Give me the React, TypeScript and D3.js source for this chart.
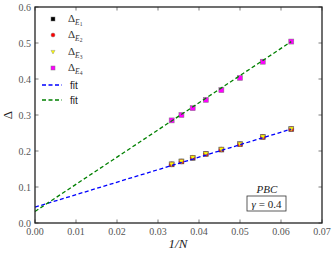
import React from "react";
import * as d3 from "d3";

// 1/N for N = 16..30
const invN = [1 / 30, 1 / 28, 1 / 26, 1 / 24, 1 / 22, 1 / 20, 1 / 18, 1 / 16];
const deltaLow = [0.163, 0.171, 0.181, 0.192, 0.204, 0.219, 0.239, 0.261];
const deltaHigh = [0.285, 0.3, 0.319, 0.342, 0.369, 0.403, 0.448, 0.504];
const fitLow = { a: 0.044, b: 3.47 };
const fitHigh = { a: 0.032, b: 7.55 };
const xTicks = [0, 0.01, 0.02, 0.03, 0.04, 0.05, 0.06, 0.07];
const yTicks = [0, 0.1, 0.2, 0.3, 0.4, 0.5, 0.6];

const W = 333;
const H = 255;
const m = { left: 35, right: 11, top: 7, bottom: 32 };
const serif = "'Liberation Serif', 'DejaVu Serif', serif";

export default function App() {
  const x = d3.scaleLinear().domain([0, 0.07]).range([m.left, W - m.right]);
  const y = d3.scaleLinear().domain([0, 0.6]).range([H - m.bottom, m.top]);
  const fitLine = (f: { a: number; b: number }) =>
    d3.line<number>().x((d) => x(d)).y((d) => y(f.a + f.b * d))([0, 1 / 16]) || "";

  const sq = (cx: number, cy: number, fill: string, key: string, s = 2.5) => (
    <rect key={key} x={cx - s} y={cy - s} width={2 * s} height={2 * s} fill={fill} stroke="#777" strokeOpacity={0.8} strokeWidth={0.6} />
  );
  const circ = (cx: number, cy: number, key: string, s = 2.5) => (
    <circle key={key} cx={cx} cy={cy} r={s} fill="red" stroke="#777" strokeWidth={0.4} />
  );
  const tri = (cx: number, cy: number, key: string, s = 2.5) => (
    <path key={key} d={`M${cx - s},${cy - s * 0.8}L${cx + s},${cy - s * 0.8}L${cx},${cy + s}Z`} fill="yellow" stroke="#777" strokeWidth={0.4} />
  );

  const legendMarkers = [
    (cx: number, cy: number) => sq(cx, cy, "black", "l1", 2),
    (cx: number, cy: number) => circ(cx, cy, "l2", 2),
    (cx: number, cy: number) => tri(cx, cy, "l3", 2),
    (cx: number, cy: number) => sq(cx, cy, "magenta", "l4", 2),
  ];
  const legendY = [19, 35, 52, 68];

  return (
    <svg width={W} height={H} style={{ position: "absolute", left: 0, top: 0, background: "white" }}>
      {/* ticks */}
      {xTicks.map((t) => (
        <g key={"x" + t}>
          <line x1={x(t)} x2={x(t)} y1={y(0)} y2={y(0) - 3.5} stroke="#444" strokeWidth={0.7} />
          <line x1={x(t)} x2={x(t)} y1={y(0.6)} y2={y(0.6) + 3.5} stroke="#444" strokeWidth={0.7} />
          <text x={x(t)} y={y(0) + 12} textAnchor="middle" fontFamily={serif} fontSize={10} fill="#555">
            {t.toFixed(2)}
          </text>
        </g>
      ))}
      {yTicks.map((t) => (
        <g key={"y" + t}>
          <line x1={x(0)} x2={x(0) + 3.5} y1={y(t)} y2={y(t)} stroke="#444" strokeWidth={0.7} />
          <line x1={x(0.07)} x2={x(0.07) - 3.5} y1={y(t)} y2={y(t)} stroke="#444" strokeWidth={0.7} />
          <text x={x(0) - 4} y={y(t) + 3.5} textAnchor="end" fontFamily={serif} fontSize={10} fill="#555">
            {t.toFixed(1)}
          </text>
        </g>
      ))}

      {/* data */}
      {invN.map((v, i) => sq(x(v), y(deltaLow[i]), "black", "a" + i))}
      {invN.map((v, i) => circ(x(v), y(deltaLow[i]), "b" + i))}
      {invN.map((v, i) => tri(x(v), y(deltaLow[i]), "c" + i))}
      {invN.map((v, i) => sq(x(v), y(deltaHigh[i]), "magenta", "d" + i))}

      {/* fits */}
      <path d={fitLine(fitLow)} fill="none" stroke="blue" strokeWidth={1.3} strokeDasharray="4,2.5" />
      <path d={fitLine(fitHigh)} fill="none" stroke="green" strokeWidth={1.3} strokeDasharray="4,2.5" />

      {/* frame */}
      <rect x={x(0)} y={y(0.6)} width={x(0.07) - x(0)} height={y(0) - y(0.6)} fill="none" stroke="#222" strokeWidth={1.3} />

      {/* legend */}
      {legendMarkers.map((f, i) => f(53, legendY[i]))}
      {legendY.map((ly, i) => (
        <text key={"lt" + i} x={68} y={ly + 3} fontFamily={serif} fontSize={11} fill="#333">
          Δ<tspan fontStyle="italic" fontSize={7.5} dy={2.5}>E</tspan>
          <tspan fontSize={5.5} dy={1.5}>{i + 1}</tspan>
        </text>
      ))}
      <line x1={42} x2={62} y1={85} y2={85} stroke="blue" strokeWidth={1.3} strokeDasharray="4,2.5" />
      <line x1={42} x2={62} y1={100} y2={100} stroke="green" strokeWidth={1.3} strokeDasharray="4,2.5" />
      <text x={70} y={89} fontFamily="'Liberation Sans', sans-serif" fontSize={10} fill="#222">fit</text>
      <text x={70} y={104} fontFamily="'Liberation Sans', sans-serif" fontSize={10} fill="#222">fit</text>

      {/* annotation */}
      <text x={267} y={193} textAnchor="middle" fontFamily={serif} fontStyle="italic" fontSize={11} fill="#222">PBC</text>
      <rect x={247} y={196} width={39} height={15} fill="white" stroke="#333" strokeWidth={0.8} />
      <text x={266.5} y={207.5} textAnchor="middle" fontFamily={serif} fontSize={11} fill="#222">
        <tspan fontStyle="italic">γ</tspan> = 0.4
      </text>

      {/* axis labels */}
      <text x={178} y={248} textAnchor="middle" fontFamily={serif} fontStyle="italic" fontSize={13} fill="#222">1/N</text>
      <text transform="translate(12,115) rotate(-90)" textAnchor="middle" fontFamily={serif} fontSize={13} fill="#222">Δ</text>
    </svg>
  );
}
